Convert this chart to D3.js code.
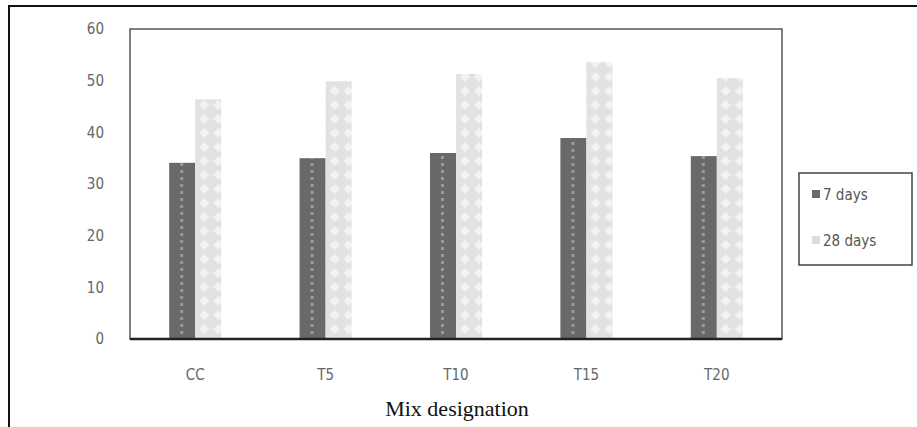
<!DOCTYPE html>
<html>
<head>
<meta charset="utf-8">
<script src="https://cdn.jsdelivr.net/npm/d3@7"></script>
<style>
  body { margin: 0; background: #fff; }
  svg { display: block; }
</style>
</head>
<body>
<div id="chart"></div>
<script>
// data
var mixes = ["CC", "T5", "T10", "T15", "T20"];
var days7 = [34.1, 35.0, 36.0, 38.9, 35.4];
var days28 = [46.4, 49.9, 51.3, 53.6, 50.5];
var seriesNames = ["7 days", "28 days"];
var yTicks = [0, 10, 20, 30, 40, 50, 60];

var width = 917, height = 427;
var svg = d3.select("#chart").append("svg")
  .attr("width", width)
  .attr("height", height);

// patterns for the two series
var defs = svg.append("defs");
var p1 = defs.append("pattern").attr("id", "pat7")
  .attr("patternUnits", "userSpaceOnUse")
  .attr("width", 24).attr("height", 7);
p1.append("rect").attr("width", 24).attr("height", 7).attr("fill", "#696969");
p1.append("rect").attr("x", 11).attr("y", 2).attr("width", 3).attr("height", 3).attr("fill", "#9a9a9a");

var p2 = defs.append("pattern").attr("id", "pat28")
  .attr("patternUnits", "userSpaceOnUse")
  .attr("width", 14).attr("height", 14);
p2.append("rect").attr("width", 14).attr("height", 14).attr("fill", "#e2e2e2");
p2.append("path").attr("d", "M7,2 L12,7 L7,12 L2,7 Z").attr("fill", "#f3f3f3");

// outer frame
svg.append("rect")
  .attr("x", 9).attr("y", 6)
  .attr("width", 930).attr("height", 440)
  .attr("fill", "none").attr("stroke", "#111").attr("stroke-width", 2);

var pLeft = 130, pRight = 782, pTop = 29, pBottom = 339;

var x = d3.scaleBand().domain(mixes).range([pLeft, pRight]);
var xs = d3.scaleBand().domain(seriesNames).range([0, 52]);
var y = d3.scaleLinear().domain([0, 60]).range([pBottom, pTop]);

// plot area border
svg.append("rect")
  .attr("x", pLeft).attr("y", pTop)
  .attr("width", pRight - pLeft).attr("height", pBottom - pTop)
  .attr("fill", "none").attr("stroke", "#555").attr("stroke-width", 1.5);

// y tick labels
svg.append("g")
  .attr("transform", "translate(104,0)")
  .call(d3.axisLeft(y).tickValues(yTicks).tickSize(0).tickPadding(0))
  .call(function (g) { g.select(".domain").remove(); })
  .selectAll("text")
  .attr("font-family", "'DejaVu Sans Condensed', 'DejaVu Sans'")
  .attr("font-size", 15)
  .attr("fill", "#666");

// bars
var rows = mixes.map(function (m, i) { return { mix: m, vals: [days7[i], days28[i]] }; });
var groups = svg.append("g").selectAll("g")
  .data(rows)
  .join("g")
  .attr("transform", function (d) { return "translate(" + (x(d.mix) + x.bandwidth() / 2 - 26) + ",0)"; });

groups.selectAll("rect")
  .data(function (d) { return d.vals.map(function (v, j) { return { name: seriesNames[j], v: v }; }); })
  .join("rect")
  .attr("x", function (d) { return xs(d.name); })
  .attr("width", xs.bandwidth())
  .attr("y", function (d) { return y(d.v); })
  .attr("height", function (d) { return y(0) - y(d.v); })
  .attr("fill", function (d) { return d.name == "7 days" ? "url(#pat7)" : "url(#pat28)"; });

// x axis line
svg.append("line")
  .attr("x1", pLeft).attr("x2", pRight)
  .attr("y1", pBottom).attr("y2", pBottom)
  .attr("stroke", "#222").attr("stroke-width", 2.5);

// x labels
svg.append("g")
  .attr("transform", "translate(0," + (pBottom + 30) + ")")
  .call(d3.axisBottom(x).tickSize(0).tickPadding(0))
  .call(function (g) { g.select(".domain").remove(); })
  .selectAll("text")
  .attr("font-family", "'DejaVu Sans Condensed', 'DejaVu Sans'")
  .attr("font-size", 15)
  .attr("fill", "#666");

svg.append("text")
  .attr("x", 457).attr("y", 416)
  .attr("text-anchor", "middle")
  .attr("font-family", "Liberation Serif")
  .attr("font-size", 22)
  .attr("fill", "#111")
  .text("Mix designation");

// legend
var legend = svg.append("g");
legend.append("rect")
  .attr("x", 799).attr("y", 173)
  .attr("width", 113).attr("height", 92)
  .attr("fill", "#fff").attr("stroke", "#444").attr("stroke-width", 1.5);

var items = legend.selectAll("g.item")
  .data(seriesNames)
  .join("g")
  .attr("class", "item")
  .attr("transform", function (d, i) { return "translate(812," + (195 + i * 46) + ")"; });

items.append("rect")
  .attr("x", 0).attr("y", -5)
  .attr("width", 8).attr("height", 8)
  .attr("fill", function (d, i) { return i == 0 ? "#6b6b6b" : "#dcdcdc"; });

items.append("text")
  .attr("x", 11).attr("y", 0)
  .attr("dy", "0.35em")
  .attr("font-family", "'DejaVu Sans Condensed', 'DejaVu Sans'")
  .attr("font-size", 15)
  .attr("fill", "#555")
  .text(function (d) { return d; });
</script>
</body>
</html>
